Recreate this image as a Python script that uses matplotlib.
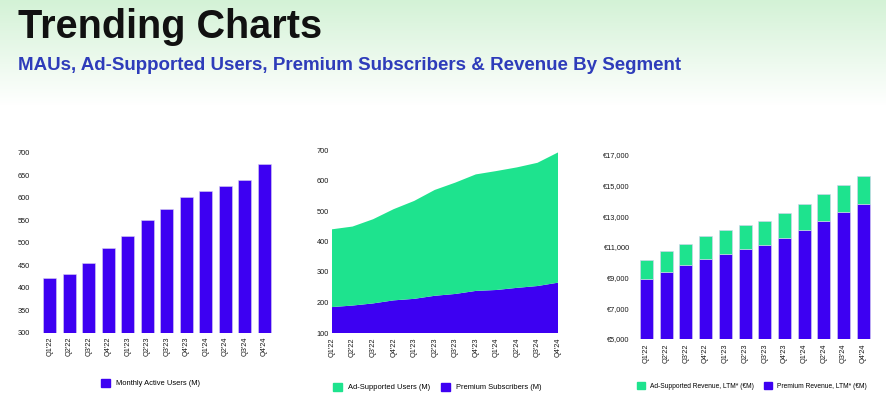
# Trending charts: MAUs, users split, revenue split

import numpy as np
from matplotlib import pyplot as plt
from matplotlib.patches import Patch

quarters = ["Q1'22", "Q2'22", "Q3'22", "Q4'22", "Q1'23", "Q2'23",
            "Q3'23", "Q4'23", "Q1'24", "Q2'24", "Q3'24", "Q4'24"]

mau = [422, 431, 456, 489, 515, 550, 575, 602, 615, 627, 640, 675]

premium_subs = [185, 190, 197, 207, 212, 222, 228, 238, 241, 248, 254, 265]
ad_users = [255, 259, 276, 299, 321, 347, 365, 382, 390, 395, 404, 427]

premium_rev = [8890, 9370, 9830, 10240, 10570, 10850, 11110, 11570, 12090, 12670, 13280, 13830]
ad_rev = [1280, 1350, 1370, 1480, 1520, 1570, 1590, 1650, 1720, 1760, 1790, 1780]

PURPLE = '#3d00f2'
GREEN = '#1ee38e'
TXT = '#1a1a1a'

plt.rcParams['font.family'] = ['Liberation Sans', 'DejaVu Sans']

W, H = 886, 394
fig = plt.figure(figsize=(W / 100, H / 100), dpi=100)

# background gradient
bg = fig.add_axes([0, 0, 1, 1], zorder=-10)
grad = np.ones((H, 1, 3))
for i in range(H):
    f = min(i / 105.0, 1.0)
    grad[i, 0] = (1 - f) * np.array([0.83, 0.95, 0.84]) + f * np.array([1, 1, 1])
bg.imshow(grad, aspect='auto', extent=[0, 1, 0, 1])
bg.axis('off')

fig.text(18 / W, 1 - 38 / H, 'Trending Charts', fontsize=28.5, fontweight='bold',
         color='#111111', va='baseline')
fig.text(18 / W, 1 - 70 / H,
         'MAUs, Ad-Supported Users, Premium Subscribers & Revenue By Segment',
         fontsize=13.5, fontweight='bold', color='#2e3cba', va='baseline')


def box(left, right, top, bottom):
    return [left / W, 1 - bottom / H, (right - left) / W, (bottom - top) / H]


def style(ax, ypad):
    for s in ax.spines.values():
        s.set_visible(False)
    ax.tick_params(length=0, labelsize=5.3, colors=TXT)
    ax.tick_params(axis='y', pad=ypad)
    ax.tick_params(axis='x', pad=3)
    ax.set_facecolor('none')


x = np.arange(len(quarters))

# chart 1 - MAU
ax1 = fig.add_axes(box(40, 274, 152.7, 332.7))
ax1.bar(x, mau, width=0.68, color=PURPLE, edgecolor='#d8d0f0', linewidth=0.4)
ax1.set_xlim(-0.5, 11.5)
ax1.set_ylim(300, 700)
ax1.set_yticks(range(300, 701, 50))
ax1.set_xticks(x)
ax1.set_xticklabels(quarters, rotation=90)
style(ax1, 7)
ax1.legend(handles=[Patch(color=PURPLE, label='Monthly Active Users (M)')],
           loc='center', bbox_to_anchor=(150 / W, 1 - 383 / H),
           bbox_transform=fig.transFigure, frameon=False, fontsize=5.4,
           handlelength=1.2, handleheight=1.2)

# chart 2 - users area
ax2 = fig.add_axes(box(332, 558, 150, 333))
ax2.stackplot(x, premium_subs, ad_users, colors=[PURPLE, GREEN], linewidth=0)
ax2.set_xlim(0, 11)
ax2.set_ylim(100, 700)
ax2.set_yticks(range(100, 701, 100))
ax2.set_xticks(x)
ax2.set_xticklabels(quarters, rotation=90)
style(ax2, 2)
ax2.axhline(100, color='#c8c4e8', linewidth=0.6)
ax2.legend(handles=[Patch(color=GREEN, label='Ad-Supported Users (M)'),
                    Patch(color=PURPLE, label='Premium Subscribers (M)')],
           loc='center', ncol=2, bbox_to_anchor=(437 / W, 1 - 387 / H),
           bbox_transform=fig.transFigure, frameon=False, fontsize=5.4,
           handlelength=1.2, handleheight=1.2, columnspacing=1.5)

# chart 3 - revenue
ax3 = fig.add_axes(box(636.7, 873, 155, 339))
ax3.bar(x, premium_rev, width=0.66, color=PURPLE, edgecolor='#d8d0f0', linewidth=0.4)
ax3.bar(x, ad_rev, bottom=premium_rev, width=0.66, color=GREEN,
        edgecolor='#d8d0f0', linewidth=0.4)
ax3.set_xlim(-0.5, 11.5)
ax3.set_ylim(5000, 17000)
ax3.set_yticks(range(5000, 17001, 2000))
ax3.set_yticklabels(['€{:,}'.format(v) for v in range(5000, 17001, 2000)])
ax3.set_xticks(x)
ax3.set_xticklabels(quarters, rotation=90)
style(ax3, 5)
ax3.legend(handles=[Patch(color=GREEN, label='Ad-Supported Revenue, LTM* (€M)'),
                    Patch(color=PURPLE, label='Premium Revenue, LTM* (€M)')],
           loc='center', ncol=2, bbox_to_anchor=(752 / W, 1 - 386 / H),
           bbox_transform=fig.transFigure, frameon=False, fontsize=4.8,
           handlelength=1.2, handleheight=1.2, columnspacing=1.5)

fig.savefig('out.png', dpi=100)
